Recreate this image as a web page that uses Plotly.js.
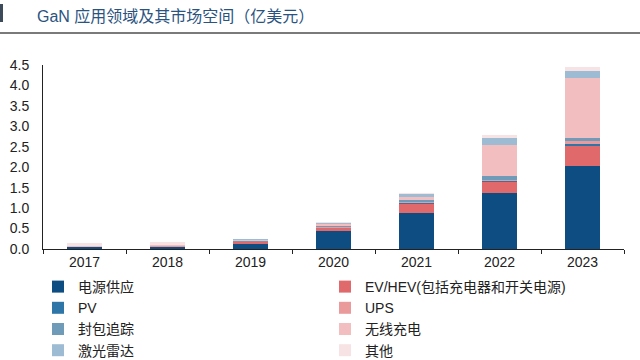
<!DOCTYPE html>
<html>
<head>
<meta charset="utf-8">
<script src="https://cdn.plot.ly/plotly-3.0.1.min.js"></script>
<style>html,body{margin:0;padding:0;background:#fff;}#chart{width:640px;height:360px;}</style>
</head>
<body>
<div id="chart"></div>
<script>
const years = ["2017", "2018", "2019", "2020", "2021", "2022", "2023"];
const seriesNames = ["电源供应", "EV/HEV(包括充电器和开关电源)", "PV", "UPS", "封包追踪", "无线充电", "激光雷达", "其他"];
const powerSupply = [0.04, 0.05, 0.13, 0.45, 0.89, 1.36, 2.03];
const evHev       = [0.005, 0.005, 0.03, 0.06, 0.21, 0.27, 0.50];
const pv          = [0.002, 0.002, 0.005, 0.01, 0.02, 0.03, 0.03];
const ups         = [0.005, 0.005, 0.01, 0.02, 0.03, 0.03, 0.07];
const packetTrack = [0.005, 0.01, 0.02, 0.03, 0.05, 0.10, 0.09];
const wireless    = [0.01, 0.02, 0.02, 0.03, 0.08, 0.75, 1.47];
const lidar       = [0.01, 0.01, 0.02, 0.03, 0.06, 0.17, 0.16];
const others      = [0.06, 0.06, 0.02, 0.02, 0.04, 0.08, 0.09];
const seriesValues = [powerSupply, evHev, pv, ups, packetTrack, wireless, lidar, others];
const colors = ["#0E4D82", "#E0696C", "#2E75A8", "#EB9A9C", "#6F9AB8", "#F2BEC0", "#9DBBD3", "#F8E3E4"];

const FONT = "'Liberation Sans', Arial, 'Noto Sans CJK SC', sans-serif";

const traces = seriesNames.map((name, i) => ({
  type: "bar",
  name: name,
  x: years,
  y: seriesValues[i],
  marker: {color: colors[i], line: {width: 0}},
  hoverinfo: "x+y+name"
}));

const W = 640, H = 360, L = 43, R = 16, T = 65, B = 111;
const pw = W - L - R, ph = H - T - B;
const px = v => (v - L) / pw;
const py = v => (H - B - v) / ph;

const layout = {
  width: W, height: H,
  margin: {l: L, r: R, t: T, b: B, pad: 0},
  paper_bgcolor: "#ffffff",
  plot_bgcolor: "#ffffff",
  font: {family: FONT, size: 14, color: "#222222"},
  barmode: "stack",
  bargap: 0.59,
  showlegend: true,
  title: {
    text: "GaN 应用领域及其市场空间（亿美元）",
    font: {family: FONT, size: 16, color: "#2B5380"},
    xref: "container", yref: "container",
    x: 37 / W, xanchor: "left",
    y: 1 - 16 / H, yanchor: "middle"
  },
  xaxis: {
    type: "category",
    showgrid: false,
    zeroline: false,
    showline: true,
    linecolor: "#222222",
    linewidth: 1,
    ticks: "outside",
    tickson: "boundaries",
    ticklen: 4,
    tickcolor: "#222222",
    tickfont: {family: FONT, size: 14, color: "#222222"},
    fixedrange: true
  },
  yaxis: {
    range: [0, 4.5],
    dtick: 0.5,
    tick0: 0,
    tickformat: ".1f",
    showgrid: false,
    zeroline: false,
    showline: true,
    linecolor: "#222222",
    linewidth: 1,
    ticks: "",
    ticklabelstandoff: 10,
    tickfont: {family: FONT, size: 14, color: "#222222"},
    fixedrange: true
  },
  legend: {
    orientation: "h",
    traceorder: "normal",
    xref: "container", yref: "container",
    x: 38 / W, xanchor: "left",
    y: 1 - 271 / H, yanchor: "top",
    entrywidth: 242,
    entrywidthmode: "pixels",
    itemwidth: 30,
    font: {family: FONT, size: 14, color: "#222222"},
    bgcolor: "rgba(0,0,0,0)",
    borderwidth: 0
  },
  shapes: [
    {type: "rect", xref: "paper", yref: "paper", x0: px(0), x1: px(3), y0: py(22), y1: py(4), fillcolor: "#3C4A5A", line: {width: 0}},
    {type: "line", xref: "paper", yref: "paper", x0: px(0), x1: px(640), y0: py(33), y1: py(33), line: {color: "#7A7A7A", width: 2}}
  ]
};

Plotly.newPlot("chart", traces, layout, {displayModeBar: false, staticPlot: true});
</script>
</body>
</html>
